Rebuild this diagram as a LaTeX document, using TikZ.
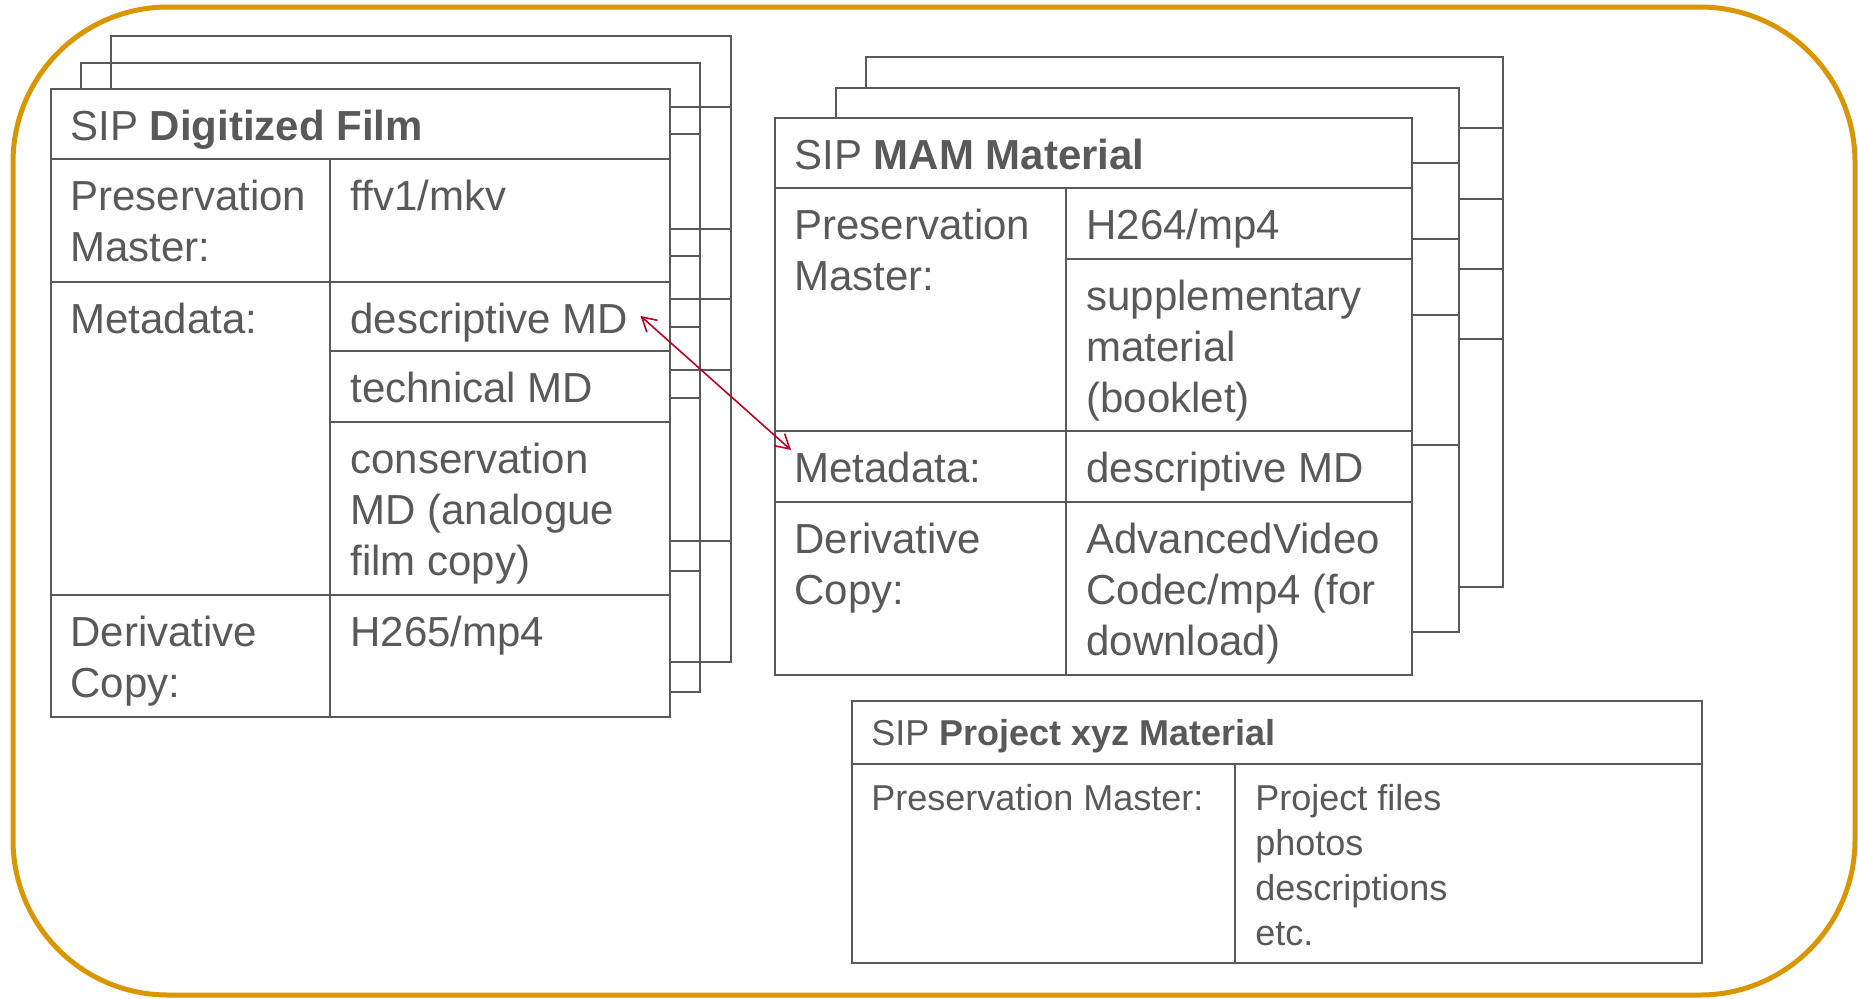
\documentclass[tikz,border=0pt]{standalone}
\usepackage{fontspec}
\setmainfont{Liberation Sans}
\usetikzlibrary{arrows.meta}
\definecolor{sipgray}{RGB}{89,89,89}
\definecolor{sipgold}{RGB}{218,150,0}
\definecolor{sipred}{RGB}{192,0,32}

\begin{document}
\begin{tikzpicture}[
    x=0.5pt, y=-0.5pt,
    sip frame/.style={draw=sipgray, line width=1.2pt},
    sip front/.style={sip frame, fill=white},
    sip cell/.style={anchor=north west, inner sep=0pt, align=left, text=sipgray, font=\fontsize{21}{25.5}\selectfont},
    sip small cell/.style={sip cell, font=\fontsize{18}{22.5}\selectfont},
    sip link/.style={draw=sipred, line width=0.8pt, {Straight Barb[length=7pt,width=8pt]}-{Straight Barb[length=7pt,width=8pt]}},
]
\useasboundingbox (0,0) rectangle (1858,998);
\draw[sipgold, line width=2.5pt, rounded corners=77.5pt] (13,7) rectangle (1855,995);

% SIP Digitized Film
\draw[sip frame] (111,36) rectangle (731,662);
\foreach \y in {107,229,299,370,541} \draw[sip frame] (670,\y) -- (731,\y);
\draw[sip frame] (81,63) rectangle (700,692);
\foreach \y in {134,256,327,398,571} \draw[sip frame] (670,\y) -- (700,\y);
\draw[sip front] (51,89) rectangle (670,717);
\draw[sip frame] (51,159) -- (670,159) (51,282) -- (670,282) (51,595) -- (670,595)
    (330,351) -- (670,351) (330,422) -- (670,422) (330,159) -- (330,717);
\node[sip cell] (dfhead) at (70,104) {\strut SIP \textbf{Digitized Film}};
\node[sip cell] (dfpm) at (70,174) {\strut Preservation\\Master:};
\node[sip cell] (dfpmval) at (350,174) {\strut ffv1/mkv};
\node[sip cell] (dfmd) at (70,297) {\strut Metadata:};
\node[sip cell] (dfdesc) at (350,297) {\strut descriptive MD};
\node[sip cell] (dftech) at (350,366) {\strut technical MD};
\node[sip cell] (dfcons) at (350,437) {\strut conservation\\MD (analogue\\film copy)};
\node[sip cell] (dfdc) at (70,610) {\strut Derivative\\Copy:};
\node[sip cell] (dfdcval) at (350,610) {\strut H265/mp4};

% SIP MAM Material
\draw[sip front] (866,57) rectangle (1503,587);
\foreach \y in {128,199,269,339} \draw[sip frame] (1459,\y) -- (1503,\y);
\draw[sip front] (836,88) rectangle (1459,632);
\foreach \y in {163,239,315,445} \draw[sip frame] (1412,\y) -- (1459,\y);
\draw[sip front] (775,118) rectangle (1412,675);
\draw[sip frame] (775,188) -- (1412,188) (775,431) -- (1412,431) (775,502) -- (1412,502)
    (1066,259) -- (1412,259) (1066,188) -- (1066,675);
\node[sip cell] (mamhead) at (794,133) {\strut SIP \textbf{MAM Material}};
\node[sip cell] (mampm) at (794,203) {\strut Preservation\\Master:};
\node[sip cell] (mampmval) at (1086,203) {\strut H264/mp4};
\node[sip cell] (mamsupp) at (1086,274) {\strut supplementary\\material\\(booklet)};
\node[sip cell] (mammd) at (794,446) {\strut Metadata:};
\node[sip cell] (mamdesc) at (1086,446) {\strut descriptive MD};
\node[sip cell] (mamdc) at (794,517) {\strut Derivative\\Copy:};
\node[sip cell] (mamdcval) at (1086,517) {\strut AdvancedVideo\\Codec/mp4 (for\\download)};

% SIP Project xyz Material
\draw[sip front] (852,701) rectangle (1702,963);
\draw[sip frame] (852,764) -- (1702,764) (1235,764) -- (1235,963);
\node[sip small cell] (pxhead) at (871,714) {\strut SIP \textbf{Project xyz Material}};
\node[sip small cell] (pxpm) at (871,779) {\strut Preservation Master:};
\node[sip small cell] (pxpmval) at (1255,779) {\strut Project files\\photos\\descriptions\\etc.};

\draw[sip link] ([shift={(12,-7)}]dfdesc.east) -- ([shift={(-3,4)}]mammd.north west);
\end{tikzpicture}
\end{document}
